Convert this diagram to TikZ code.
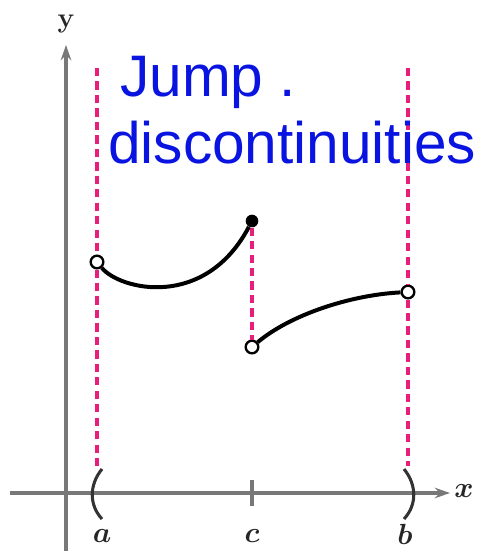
\documentclass[tikz,border=0pt]{standalone}
\usepackage{fontspec}
\newfontfamily\handfont{Liberation Sans}
\definecolor{jumppink}{RGB}{232,30,122}
\definecolor{inkblue}{RGB}{10,20,225}
\definecolor{axisgray}{RGB}{120,120,120}
\usetikzlibrary{arrows.meta,positioning}

\begin{document}
\begin{tikzpicture}[x=0.03cm,y=-0.03cm,
  axis/.style={draw=axisgray,line width=2.8pt,-{Stealth[length=13pt,width=9pt]}},
  guide/.style={draw=jumppink,line width=2.8pt,dash pattern=on 7pt off 4.5pt},
  graph/.style={draw=black,line width=3.4pt},
  opendot/.style={circle,draw=black,line width=2pt,fill=white,inner sep=0pt,minimum size=0.38cm},
  filldot/.style={circle,fill=black,inner sep=0pt,minimum size=0.38cm},
  lbl/.style={font=\fontsize{26}{28}\selectfont\boldmath,text=black!85},
  hand/.style={font=\handfont\fontsize{50}{54}\selectfont,text=inkblue,anchor=base west,inner sep=0pt}
]
  \useasboundingbox (0,0) rectangle (483,551);

  % axes
  \coordinate (xs) at (10,493);
  \coordinate (xe) at (450,493);
  \coordinate (ys) at (66,551);
  \coordinate (ye) at (66,45);
  \draw[axis] (xs) -- (xe);
  \draw[axis] (ys) -- (ye);
  \node[lbl,font=\fontsize{24}{26}\selectfont\bfseries] (ylab) at (66,24) {y};
  \node[lbl] (xlab) at (464,491) {$x$};

  % points of the graph
  \node[opendot] (pa) at (97,262) {};
  \node[filldot] (pcf) at (252,221) {};
  \node[opendot] (pco) at (252,347) {};
  \node[opendot] (pb) at (408,292) {};

  % dashed guides
  \coordinate (at) at (97,68);
  \coordinate (ab) at (97,466);
  \coordinate (bt) at (408,68);
  \coordinate (bb) at (408,466);
  \draw[guide] (at) -- (pa);
  \draw[guide] (pa) -- (ab);
  \draw[guide] (bt) -- (pb);
  \draw[guide] (pb) -- (bb);
  \draw[guide] (pcf) -- (pco);

  % graph pieces
  \draw[graph] (pa) .. controls (120,290) and (205,310) .. (pcf);
  \draw[graph] (pco) .. controls (290,315) and (350,295) .. (pb);

  % interval and tick
  \draw[black!80,line width=2.6pt] (102,469) .. controls (89,485) and (89,505) .. (102,519);
  \draw[black!80,line width=2.6pt] (404,469) .. controls (417,485) and (417,505) .. (404,519);
  \draw[axisgray,line width=2.6pt] (252,480) -- (252,506);
  \node[lbl] (alab) at (102,536) {$a$};
  \node[lbl] (clab) at (252,536) {$c$};
  \node[lbl] (blab) at (405,534) {$b$};

  % handwritten note
  \node[hand] (jump) at (120,96) {Jump .};
  \node[hand] (disc) at (108,163) {discontinuities};
\end{tikzpicture}
\end{document}
